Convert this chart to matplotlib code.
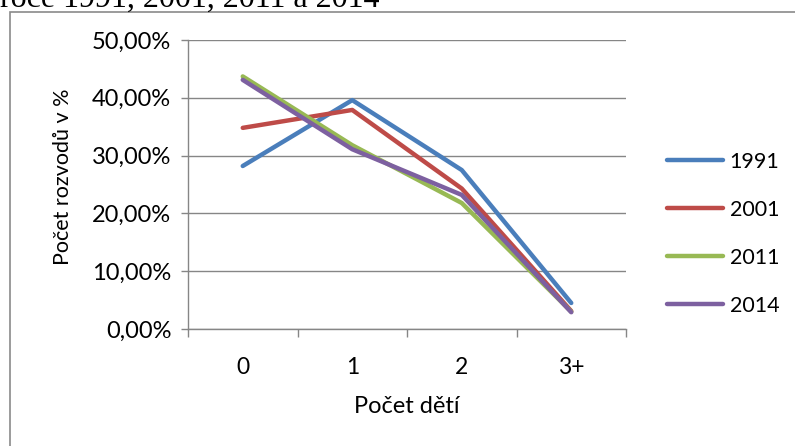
import matplotlib.pyplot as plt
from matplotlib.patches import Rectangle

# podil rozvodu podle poctu deti
kategorie = ["0", "1", "2", "3+"]
roky = ["1991", "2001", "2011", "2014"]
r1991 = [28.2, 39.6, 27.5, 4.5]
r2001 = [34.8, 37.9, 24.3, 3.1]
r2011 = [43.7, 31.8, 21.8, 3.0]
r2014 = [43.1, 31.1, 23.2, 2.9]
barvy = ["#4A7EBB", "#BE4B48", "#98B954", "#7D60A0"]

plt.rcParams['font.family'] = ['Lato', 'DejaVu Sans']

fig = plt.figure(figsize=(7.95, 4.46), dpi=100)
ax = fig.add_axes([188/795, 1-329/446, (626-188)/795, (329-40)/446])

x = range(len(kategorie))
for hodnoty, rok, c in zip([r1991, r2001, r2011, r2014], roky, barvy):
    ax.plot(x, [v/100 for v in hodnoty], color=c, lw=3.2, label=rok,
            solid_capstyle='round', solid_joinstyle='round')

ax.set_xlim(-0.5, 3.5)
ax.set_ylim(0, 0.5)
ax.set_yticks([0, 0.1, 0.2, 0.3, 0.4, 0.5])
ax.set_yticklabels(["0,00%", "10,00%", "20,00%", "30,00%", "40,00%", "50,00%"])
ax.set_xticks(list(x))
ax.set_xticklabels(kategorie)
ax.set_xticks([-0.5, 0.5, 1.5, 2.5, 3.5], minor=True)
ax.tick_params(axis='x', which='major', length=0, pad=20, labelsize=16.5)
ax.tick_params(axis='x', which='minor', length=6, color='#868686', width=1)
ax.tick_params(axis='y', length=5, color='#868686', width=1, pad=7, labelsize=17)
ax.grid(axis='y', color='#868686', lw=1)
ax.set_axisbelow(True)
for s in ['top', 'right']:
    ax.spines[s].set_visible(False)
for s in ['left', 'bottom']:
    ax.spines[s].set_color('#868686')
    ax.spines[s].set_linewidth(1)

ax.set_xlabel("Počet dětí", fontsize=17)
ax.xaxis.set_label_coords(0.5, -0.232)
ax.set_ylabel("Počet rozvodů v %", fontsize=15.5)
ax.yaxis.set_label_coords(-0.262, 0.526)

ax.legend(loc='center left', bbox_to_anchor=(1.05, 0.33), frameon=False,
          fontsize=15.5, handlelength=2.6, handletextpad=0.3, labelspacing=1.3)

# ramecek grafu
fig.patches.append(Rectangle((10/795, -0.1), 1.2, 1-12/446+0.1, transform=fig.transFigure,
                             fill=False, edgecolor='#8a8a8a', lw=1.2))
fig.text(0.0, 1-7/446, "roce 1991, 2001, 2011 a 2014", family='Liberation Serif',
         fontsize=23, va='baseline', ha='left')

fig.savefig("out.png", dpi=100)
